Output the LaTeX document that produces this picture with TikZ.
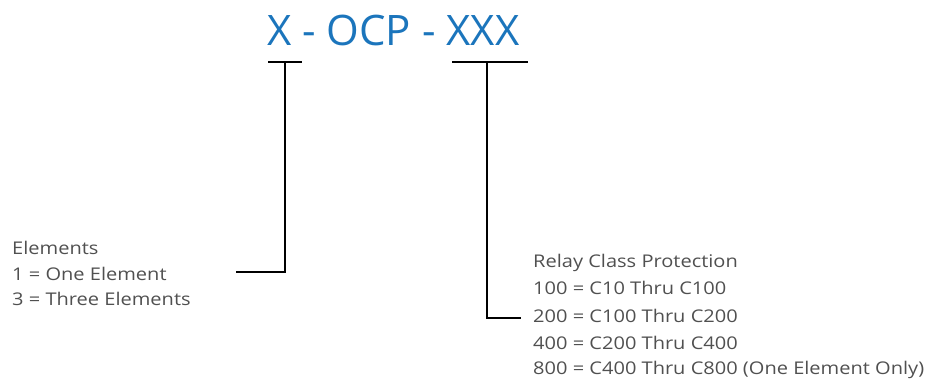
\documentclass[tikz,border=0pt]{standalone}
\usepackage{fontspec}
\setmainfont{Open Sans}
\newfontfamily\widefont[FakeStretch=1.145]{Open Sans}
\definecolor{titleblue}{HTML}{1B75BC}
\definecolor{txtgray}{HTML}{505050}
\begin{document}
\begin{tikzpicture}[x=1pt,y=-1pt,
  lbl/.style={anchor=base west,inner sep=0pt,text=txtgray,font=\widefont\fontsize{17.5}{17.5}\selectfont},
  brk/.style={line width=2.4pt,black}]
\useasboundingbox (0,0) rectangle (930,378);
\node[anchor=base west,inner sep=0pt,text=titleblue,font=\fontsize{42}{42}\selectfont] (title) at (267,45) {X - OCP - XXX};
% left bracket
\coordinate (l1) at (268,62);
\coordinate (l2) at (302,62);
\coordinate (lv) at (285,62);
\coordinate (lb) at (285,272);
\coordinate (le) at (236,272);
\draw[brk] (l1) -- (l2);
\draw[brk] (lv) -- (lb) -- (le);
% right bracket
\coordinate (r1) at (452,62);
\coordinate (r2) at (528,62);
\coordinate (rv) at (487,62);
\coordinate (rb) at (487,318);
\coordinate (re) at (521,318);
\draw[brk] (r1) -- (r2);
\draw[brk] (rv) -- (rb) -- (re);
% left text
\node[lbl] (e1) at (12,254) {Elements};
\node[lbl] (e2) at (12,280) {1 = One Element};
\node[lbl] (e3) at (12,305.5) {3 = Three Elements};
% right text
\node[lbl] (p1) at (533,267) {Relay Class Protection};
\node[lbl] (p2) at (533,294.5) {100 = C10 Thru C100};
\node[lbl] (p3) at (533,322) {200 = C100 Thru C200};
\node[lbl] (p4) at (533,349.5) {400 = C200 Thru C400};
\node[lbl] (p5) at (533,374) {800 = C400 Thru C800 (One Element Only)};
\end{tikzpicture}
\end{document}
